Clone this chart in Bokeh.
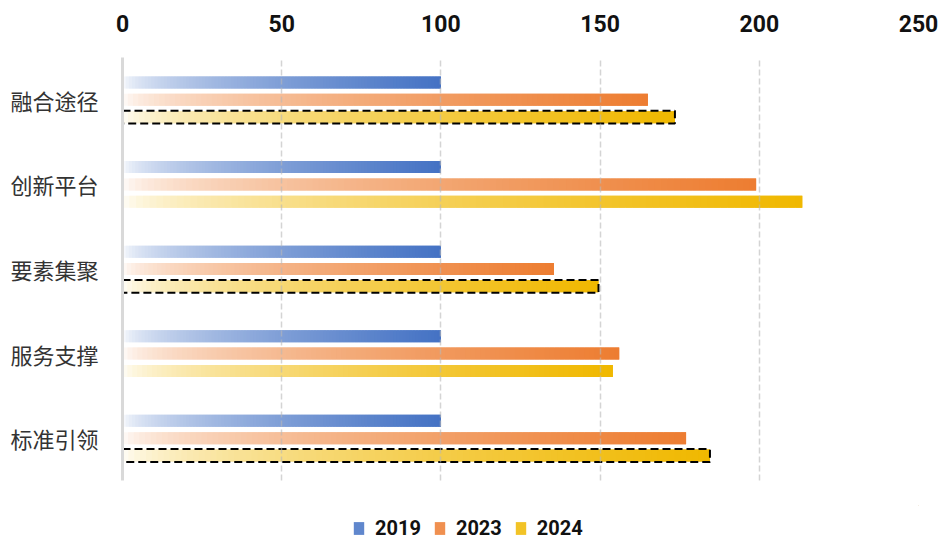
from bokeh.plotting import figure
from bokeh.layouts import column
from bokeh.models import FactorRange, Range1d, FixedTicker, ColumnDataSource, Legend, LegendItem
from bokeh.transform import dodge
from bokeh.embed import file_html
from bokeh.resources import INLINE

categories = ["融合途径", "创新平台", "要素集聚", "服务支撑", "标准引领"]
years = ["2019", "2023", "2024"]
values_2019 = [100, 100, 100, 100, 100]
values_2023 = [165, 199, 135.5, 156, 177]
values_2024 = [173.5, 213.5, 149.5, 154, 184.5]
highlighted = ["融合途径", "要素集聚", "标准引领"]
x_ticks = [0, 50, 100, 150, 200, 250]

series = {"2019": values_2019, "2023": values_2023, "2024": values_2024}
colors = {"2019": (68, 114, 196), "2023": (237, 125, 49), "2024": (240, 184, 0)}
offsets = {"2019": 0.205, "2023": 0.0, "2024": -0.205}
BAR_H = 0.142
N = 100
NUM_FONT = "Roboto"

p = figure(width=939, height=505, output_backend="svg", toolbar_location=None,
           x_axis_location="above",
           y_range=FactorRange(factors=list(reversed(categories)), range_padding=0),
           x_range=Range1d(0, 250),
           min_border_left=122, min_border_right=21, min_border_top=57, min_border_bottom=25)
p.outline_line_color = None
p.background_fill_color = "white"


def blend(rgb, a):
    r, g, b = rgb
    return "#%02x%02x%02x" % (round(255 - (255 - r) * a), round(255 - (255 - g) * a), round(255 - (255 - b) * a))


for yr in years:
    vals = series[yr]
    ys, lefts, rights, fills = [], [], [], []
    for cat, v in zip(categories, vals):
        for i in range(N):
            t = (i + 0.5) / N
            ys.append(cat)
            lefts.append(v * i / N)
            rights.append(v * min(1.0, (i + 2.0) / N))
            fills.append(blend(colors[yr], t ** 0.55))
    src = ColumnDataSource(dict(y=ys, left=lefts, right=rights, fill=fills))
    p.hbar(y=dodge("y", offsets[yr], range=p.y_range), left="left", right="right",
           height=BAR_H, fill_color="fill", line_color=None, source=src)

# dashed highlight boxes around selected 2024 bars
hl_y = [c for c in categories if c in highlighted]
hl_v = [v for c, v in zip(categories, values_2024) if c in highlighted]
hsrc = ColumnDataSource(dict(y=hl_y, right=hl_v))
p.hbar(y=dodge("y", offsets["2024"], range=p.y_range), left=0, right="right",
       height=BAR_H + 0.01, fill_color=None, line_color="black", line_width=2,
       line_dash="8 4", source=hsrc)

# grid
p.xgrid.ticker = FixedTicker(ticks=x_ticks)
p.xgrid.grid_line_color = "#b8b8b8"
p.xgrid.grid_line_alpha = 0.6
p.xgrid.grid_line_width = 1.5
p.xgrid.grid_line_dash = "6 3"
p.xgrid.level = "guide"
p.ygrid.grid_line_color = None

# top x axis
p.xaxis.ticker = FixedTicker(ticks=x_ticks)
p.xaxis.axis_line_color = None
p.xaxis.major_tick_line_color = None
p.xaxis.minor_tick_line_color = None
p.xaxis.major_label_standoff = 20
p.xaxis.major_label_text_font = NUM_FONT
p.xaxis.major_label_text_font_style = "bold"
p.xaxis.major_label_text_font_size = "23px"
p.xaxis.major_label_text_color = "#111111"

# left y axis
p.yaxis.axis_line_color = "#d9d9d9"
p.yaxis.axis_line_width = 3
p.yaxis.major_tick_line_color = None
p.yaxis.minor_tick_line_color = None
p.yaxis.major_label_standoff = 18
p.yaxis.major_label_text_font = "Noto Sans CJK SC"
p.yaxis.major_label_text_font_size = "22px"
p.yaxis.major_label_text_color = "#333333"

# legend strip below
lf = figure(width=939, height=35, output_backend="svg", toolbar_location=None,
            x_axis_type=None, y_axis_type=None, min_border=0,
            x_range=Range1d(0, 1), y_range=Range1d(0, 1))
lf.outline_line_color = None
lf.xgrid.visible = False
lf.ygrid.visible = False
legend_items = []
for yr in years:
    dummy = lf.hbar(y=[5], left=[5], right=[6], height=1,
                    fill_color=blend(colors[yr], 0.85), line_color=None)
    legend_items.append(LegendItem(label=yr, renderers=[dummy]))
legend = Legend(items=legend_items, orientation="horizontal", location=(230, 0),
                glyph_width=13, glyph_height=16, label_standoff=10, spacing=12,
                padding=0, margin=0, border_line_color=None, background_fill_alpha=0,
                label_text_font=NUM_FONT, label_text_font_style="bold",
                label_text_font_size="20px", label_text_color="#111111")
lf.add_layout(legend, "center")

open("out.html", "w").write(file_html(column(p, lf, spacing=0), INLINE))
